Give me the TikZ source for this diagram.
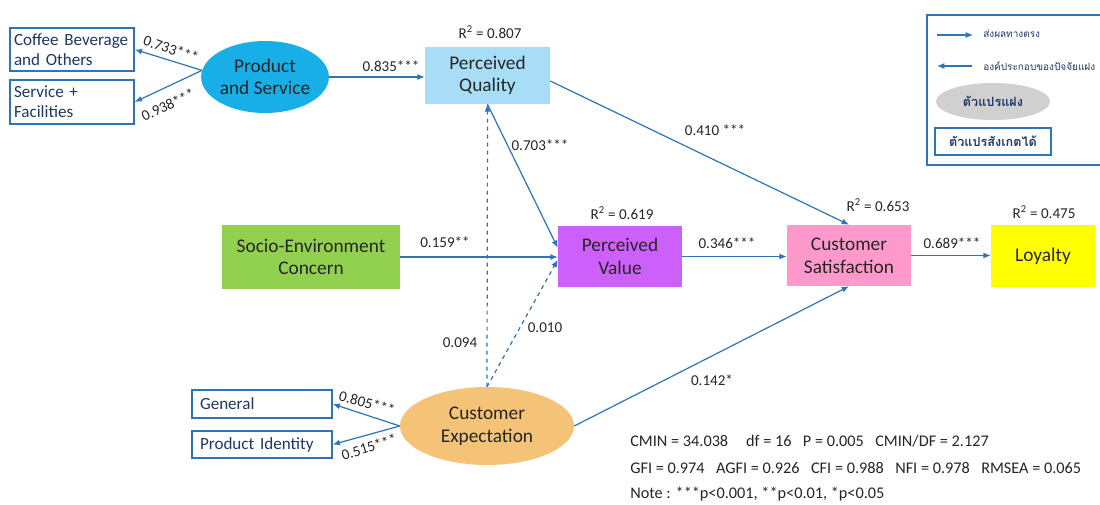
\documentclass[tikz,border=0pt]{standalone}
\usepackage{fontspec}
\setmainfont{Carlito}
\newfontfamily\thai[Script=Thai]{Loma}
\usetikzlibrary{arrows.meta,shapes.geometric}
\definecolor{linkblue}{RGB}{46,117,182}
\definecolor{navy}{RGB}{31,56,100}
\definecolor{labelgray}{RGB}{38,38,38}
\definecolor{psblue}{RGB}{24,174,232}
\definecolor{pqblue}{RGB}{168,221,247}
\definecolor{secgreen}{RGB}{146,208,80}
\definecolor{pvpurple}{RGB}{205,96,250}
\definecolor{cspink}{RGB}{255,153,204}
\definecolor{loyyellow}{RGB}{255,255,0}
\definecolor{ceorange}{RGB}{245,195,120}
\definecolor{latentgray}{RGB}{208,208,208}
\tikzset{
  construct/.style={rectangle, inner sep=0pt, align=center, font=\fontsize{14.5}{17}\selectfont, text=black!85},
  latent/.style={ellipse, inner sep=0pt, align=center, font=\fontsize{14.5}{17}\selectfont, text=black!85},
  indicator/.style={rectangle, draw=linkblue, line width=1.1pt, inner xsep=3pt, inner ysep=0pt, align=left, font=\fontsize{12.8}{15}\selectfont, text=navy},
  link/.style={draw=linkblue, line width=0.9pt, -{Latex[length=5.5pt,width=4.5pt]}},
  weak/.style={link, dashed},
  coef/.style={font=\fontsize{11.3}{13}\selectfont, text=labelgray, inner sep=0pt},
  fitline/.style={font=\fontsize{12.2}{14}\selectfont, text=labelgray, anchor=west, inner sep=0pt},
  legendtext/.style={anchor=west, inner sep=0pt, text=navy, font=\thai\fontsize{7.5}{9}\selectfont},
}
\begin{document}
\begin{tikzpicture}[x=0.75pt,y=-0.75pt]
\useasboundingbox (0,0) rectangle (1100,504);
\clip (0,0) rectangle (1100,504);
\fill[white] (0,0) rectangle (1100,504);

% latent constructs
\node[latent, fill=psblue, minimum width=94.5pt, minimum height=54pt] (ps) at (265,77) {Product\\and Service};
\node[latent, fill=ceorange, minimum width=130.5pt, minimum height=58.5pt] (ce) at (487,426) {Customer\\Expectation};

% structural constructs
\node[construct, fill=pqblue, minimum width=93.75pt, minimum height=42.75pt] (pq) at (487.5,75.5) {Perceived\\Quality};
\node[construct, fill=secgreen, minimum width=133.5pt, minimum height=48pt] (sec) at (311,257) {Socio-Environment\\Concern};
\node[construct, fill=pvpurple, minimum width=93pt, minimum height=45.75pt] (pv) at (620,256.5) {Perceived\\Value};
\node[construct, fill=cspink, minimum width=93pt, minimum height=45.75pt] (cs) at (849,255.5) {Customer\\Satisfaction};
\node[construct, fill=loyyellow, minimum width=78pt, minimum height=46.5pt] (loy) at (1043,256) {Loyalty};

% observed indicators
\node[indicator, text width=87pt, minimum height=32.25pt] (coffee) at (72,49.5) {Coffee Beverage\\and Others};
\node[indicator, text width=87pt, minimum height=33pt] (service) at (72,102) {Service +\\Facilities};
\node[indicator, inner xsep=6pt, text width=93pt, minimum height=21pt] (gen) at (262,404) {General};
\node[indicator, inner xsep=6pt, text width=93pt, minimum height=20.25pt] (pid) at (262,444.5) {Product Identity};

% measurement paths
\draw[link] (ps.174) -- (coffee.east);
\draw[link] (ps.174) -- (service.east);
\draw[link] (ce.west) -- (gen.east);
\draw[link] (ce.west) -- (pid.east);

% structural paths
\draw[link] (ps.east) -- (ps.east -| pq.west);
\draw[link] (pq.-5) -- (cs.north);
\draw[link] (pq.south) -- (pv.172);
\draw[link] (sec.east) -- (sec.east -| pv.west);
\draw[link] (pv.east) -- (pv.east -| cs.west);
\draw[link] (cs.east) -- (cs.east -| loy.west);
\draw[link] (ce.east) -- (cs.south);
\draw[weak] (ce.north) -- (pq.south);
\draw[weak] (ce.north) -- (pv.183);

% path coefficients
\node[coef, rotate=-19] (c733) at (171,49) {0.733***};
\node[coef, rotate=25] (c938) at (168,105) {0.938***};
\node[coef, rotate=-15] (c805) at (367,403) {0.805***};
\node[coef, rotate=17] (c515) at (369,447) {0.515***};
\node[coef] (c835) at (391,66) {0.835***};
\node[coef] (c703) at (540,145) {0.703***};
\node[coef] (c410) at (715,130) {0.410 ***};
\node[coef] (c159) at (445,242) {0.159**};
\node[coef] (c094) at (460,343) {0.094};
\node[coef] (c010) at (545,328) {0.010};
\node[coef] (c346) at (727,243) {0.346***};
\node[coef] (c689) at (952,243) {0.689***};
\node[coef] (c142) at (712,380) {0.142*};

% explained variance
\node[coef] (r2pq) at (490,32) {R\textsuperscript{2} = 0.807};
\node[coef] (r2pv) at (622,213) {R\textsuperscript{2} = 0.619};
\node[coef] (r2cs) at (878,205) {R\textsuperscript{2} = 0.653};
\node[coef] (r2loy) at (1044,212) {R\textsuperscript{2} = 0.475};

% fit indices
\node[fitline] (fit1) at (630,441) {CMIN = 34.038\hspace{1.1em}df = 16\hspace{0.7em}P = 0.005\hspace{0.7em}CMIN/DF = 2.127};
\node[fitline] (fit2) at (630,468) {GFI = 0.974\hspace{0.7em}AGFI = 0.926\hspace{0.7em}CFI = 0.988\hspace{0.7em}NFI = 0.978\hspace{0.7em}RMSEA = 0.065};
\node[fitline] (fit3) at (630,494) {Note : ***p<0.001, **p<0.01, *p<0.05};

% legend
\draw[linkblue, line width=1.1pt] (927,15) rectangle (1106,165);
\coordinate (la1) at (937,35);
\coordinate (lb1) at (973,35);
\coordinate (la2) at (972,66);
\coordinate (lb2) at (937,66);
\draw[link, line width=0.8pt] (la1) -- (lb1);
\draw[link, line width=0.8pt] (la2) -- (lb2);
\node[legendtext] (lt1) at (983,34) {ส่งผลทางตรง};
\node[legendtext] (lt2) at (983,66) {องค์ประกอบของปัจจัยแฝง};
\node[ellipse, fill=latentgray, minimum width=85.5pt, minimum height=27.75pt, inner sep=0pt, text=navy, font=\thai\bfseries\fontsize{9.5}{11}\selectfont] (llat) at (993,101.5) {ตัวแปรแฝง};
\node[rectangle, draw=linkblue, line width=1.1pt, minimum width=87pt, minimum height=20.25pt, inner sep=0pt, text=navy, font=\thai\bfseries\fontsize{9.5}{11}\selectfont] (lobs) at (993,141.5) {ตัวแปรสังเกตได้};
\end{tikzpicture}
\end{document}
